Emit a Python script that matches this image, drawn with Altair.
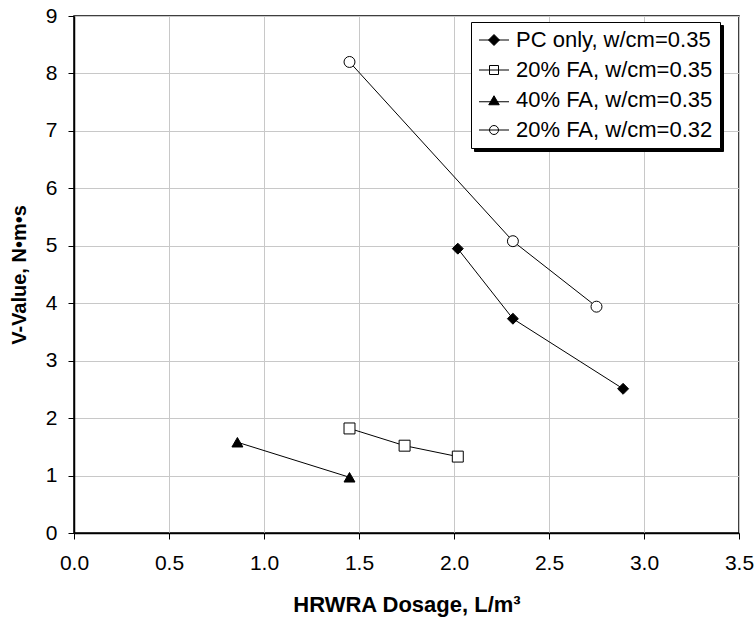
import altair as alt
import pandas as pd

# Series names as they appear in the legend
series = [
    "PC only, w/cm=0.35",
    "20% FA, w/cm=0.35",
    "40% FA, w/cm=0.35",
    "20% FA, w/cm=0.32",
]

# HRWRA dosage (L/m³) and V-value (N·m·s) per mix
pc_x = [2.02, 2.31, 2.89]
pc_y = [4.95, 3.73, 2.51]
fa20_x = [1.45, 1.74, 2.02]
fa20_y = [1.82, 1.52, 1.33]
fa40_x = [0.86, 1.45]
fa40_y = [1.58, 0.97]
fa20b_x = [1.45, 2.31, 2.75]
fa20b_y = [8.20, 5.08, 3.94]

x_ticks = [0.0, 0.5, 1.0, 1.5, 2.0, 2.5, 3.0, 3.5]
y_ticks = [0, 1, 2, 3, 4, 5, 6, 7, 8, 9]

# marker style per series
marker_shapes = ["diamond", "square", "triangle-up", "circle"]
marker_fills = ["black", "white", "black", "white"]

# legend glyphs: a short line through the marker
legend_paths = [
    "M-3,0H3M0,-1.1L1.1,0L0,1.1L-1.1,0Z",
    "M-3,0H3M-0.9,-0.9H0.9V0.9H-0.9Z",
    "M-3,0.35H3M0,-0.85L1.05,0.95H-1.05Z",
    "M-3,0H3M0.9,0A0.9,0.9 0 1,1 -0.9,0A0.9,0.9 0 1,1 0.9,0Z",
]

rows = []
for name, xs, ys in zip(series, [pc_x, fa20_x, fa40_x, fa20b_x], [pc_y, fa20_y, fa40_y, fa20b_y]):
    for xv, yv in zip(xs, ys):
        rows.append({"series": name, "dosage": xv, "vvalue": yv})
df = pd.DataFrame(rows)

FONT = "Liberation Sans"

x_enc = alt.X(
    "dosage:Q",
    scale=alt.Scale(domain=[0, 3.5], nice=False, zero=False),
    axis=alt.Axis(values=x_ticks, format=".1f", title="HRWRA Dosage, L/m³",
                  labelPadding=13, titlePadding=21, labelFlush=False,
                  titleFontSize=22),
)
y_enc = alt.Y(
    "vvalue:Q",
    scale=alt.Scale(domain=[0, 9], nice=False),
    axis=alt.Axis(values=y_ticks, format="d", title="V-Value, N•m•s",
                  labelPadding=11, titlePadding=16, labelFlush=False),
)

base = alt.Chart(df)

lines = base.mark_line(color="black", strokeWidth=1).encode(
    x=x_enc, y=y_enc, detail="series:N"
)

point_layers = []
for name, shp, fil in zip(series, marker_shapes, marker_fills):
    point_layers.append(
        base.transform_filter(alt.datum.series == name)
        .mark_point(shape=shp, filled=True, fill=fil, stroke="black",
                    strokeWidth=1, size=120, opacity=1)
        .encode(x=x_enc, y=y_enc)
    )

legend_common = dict(
    title=None, orient="none", padding=7,
    symbolSize=100, symbolOffset=5, labelOffset=11,
    labelFont=FONT, labelFontSize=22, labelLimit=400,
    rowPadding=8,
)

main_legend = alt.Legend(
    legendX=397, legendY=6, zindex=2,
    strokeColor="black", fillColor="white",
    symbolStrokeWidth=1, symbolStrokeColor="black", symbolOpacity=1,
    labelColor="black",
    **legend_common,
)

# drop shadow behind the legend box (same entries, zero-width suffix keeps it a separate legend)
shadow_keys = [s + "\u200b" for s in series]
shadow_legend = alt.Legend(
    legendX=400, legendY=9, zindex=1,
    strokeColor="black", fillColor="black",
    labelColor="transparent", symbolOpacity=0,
    **legend_common,
)

legend_layer = (
    base.transform_filter("false")
    .mark_point(filled=True, strokeWidth=1)
    .encode(
        x=x_enc,
        y=y_enc,
        shape=alt.Shape("series:N",
                        scale=alt.Scale(domain=series, range=legend_paths),
                        legend=main_legend),
        fill=alt.Fill("series:N",
                      scale=alt.Scale(domain=series, range=marker_fills),
                      legend=main_legend),
        stroke=alt.Stroke("series:N",
                          scale=alt.Scale(domain=series, range=["black"] * 4),
                          legend=main_legend),
    )
)

shadow_layer = (
    base.transform_filter("false")
    .transform_calculate(shadow_key="datum.series + '\u200b'")
    .mark_point(filled=True)
    .encode(
        x=x_enc,
        y=y_enc,
        color=alt.Color("shadow_key:N",
                        scale=alt.Scale(domain=shadow_keys, range=["transparent"] * 4),
                        legend=shadow_legend),
    )
)

chart = (
    alt.layer(shadow_layer, lines, *point_layers, legend_layer)
    .properties(
        width=665,
        height=517,
        autosize=alt.AutoSizeParams(type="none"),
        padding={"left": 74, "top": 16, "right": 16, "bottom": 89},
        background="white",
    )
    .configure_view(stroke="black", strokeWidth=1.5)
    .configure_axis(
        domainColor="black", domainWidth=1.5,
        tickColor="black", tickSize=6, tickWidth=1,
        grid=True, gridColor="#c8c8c8", gridWidth=1,
        labelFont=FONT, labelFontSize=21, labelColor="black",
        titleFont=FONT, titleFontSize=20, titleFontWeight="bold", titleColor="black",
    )
)

chart.save("out.html", embed_options={"renderer": "svg", "actions": False})
